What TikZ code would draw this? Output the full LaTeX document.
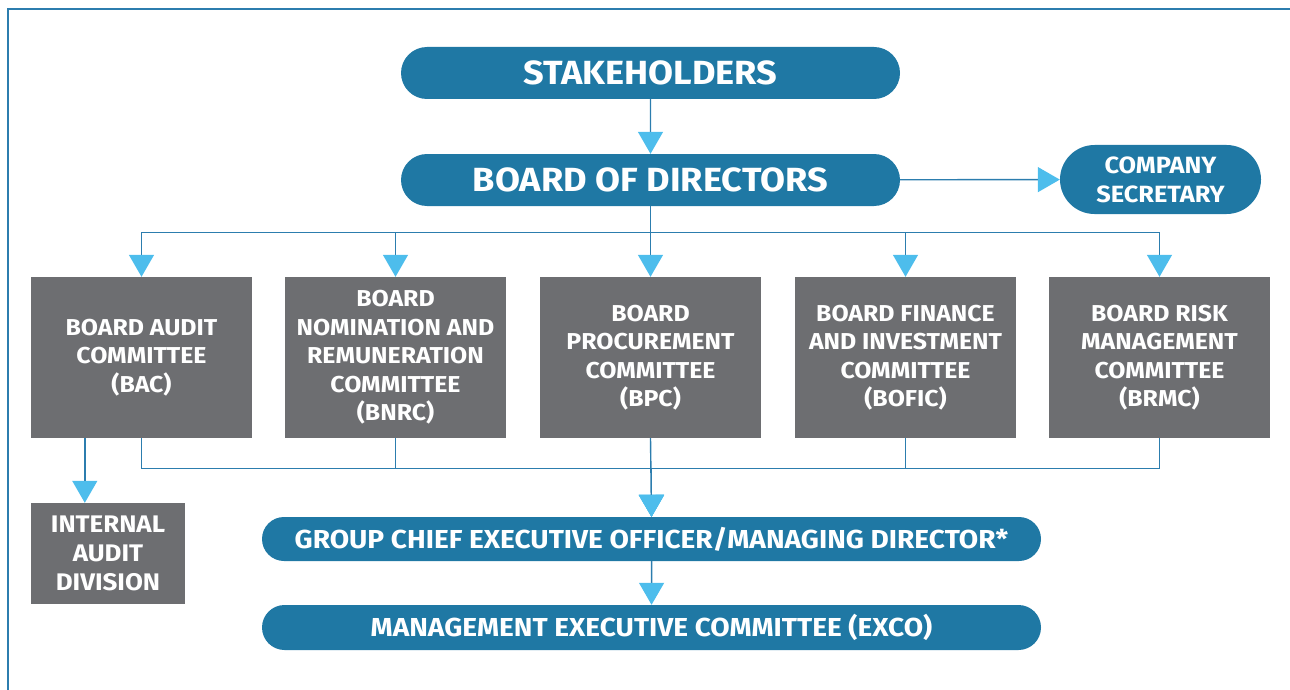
\documentclass[tikz,border=0pt]{standalone}
\usepackage{fontspec}
\setmainfont{Fira Sans}
\newfontfamily\dinfont[FakeStretch=1.08]{Fira Sans}
\usetikzlibrary{shapes.misc,arrows.meta,positioning,calc}
\definecolor{pillblue}{HTML}{1F78A4}
\definecolor{boxgray}{HTML}{6D6E71}
\definecolor{tipblue}{HTML}{4DBDEC}
\definecolor{lineblue}{HTML}{2C7DAE}
\tikzset{
  pill/.style={rounded rectangle, fill=pillblue, text=white, inner sep=0pt},
  combox/.style={rectangle, fill=boxgray, text=white, font=\dinfont\bfseries\fontsize{23}{28.5}\selectfont, align=center, minimum width=221pt, minimum height=161pt, inner sep=0pt},
  conn/.style={draw=lineblue, line width=1.4pt},
  arr/.style={conn, -{Triangle[width=25pt,length=22pt,color=tipblue]}},
}
\begin{document}
\begin{tikzpicture}[x=1pt,y=-1pt]
\useasboundingbox (0,0) rectangle (1290,690);
\draw[lineblue, line width=1.6pt] (8,690) -- (8,9) -- (1290,9);
% top pills
\node[pill, minimum width=499pt, minimum height=52pt, font=\dinfont\bfseries\fontsize{33.5}{36}\selectfont] (stake) at (650.5,73) {STAKEHOLDERS};
\node[pill, minimum width=499pt, minimum height=52pt, font=\dinfont\bfseries\fontsize{33.5}{36}\selectfont] (bod) at (650.5,180) {BOARD OF DIRECTORS};
\node[pill, minimum width=201pt, minimum height=69pt, align=center, font=\dinfont\bfseries\fontsize{23.5}{29}\selectfont] (cs) at (1160.5,179.5) {COMPANY\\SECRETARY};
% committees
\node[combox] (c1) at (141.5,357.5) {BOARD AUDIT\\COMMITTEE\\(BAC)};
\node[combox] (c2) at (395.5,357.5) {BOARD\\NOMINATION AND\\REMUNERATION\\COMMITTEE\\(BNRC)};
\node[combox] (c3) at (650.5,357.5) {BOARD\\PROCUREMENT\\COMMITTEE\\(BPC)};
\node[combox] (c4) at (905.5,357.5) {BOARD FINANCE\\AND INVESTMENT\\COMMITTEE\\(BOFIC)};
\node[combox] (c5) at (1159.5,357.5) {BOARD RISK\\MANAGEMENT\\COMMITTEE\\(BRMC)};
\node[combox, minimum width=154pt, minimum height=101pt, font=\dinfont\bfseries\fontsize{24}{29}\selectfont] (ia) at (108,553.5) {INTERNAL\\AUDIT\\DIVISION};
% bottom pills
\node[pill, minimum width=779pt, minimum height=44pt, font=\dinfont\bfseries\fontsize{26}{30}\selectfont] (gceo) at (651.5,539) {GROUP CHIEF EXECUTIVE OFFICER/MANAGING DIRECTOR*};
\node[pill, minimum width=779pt, minimum height=45pt, font=\dinfont\bfseries\fontsize{26}{30}\selectfont] (exco) at (651.5,627.5) {MANAGEMENT EXECUTIVE COMMITTEE (EXCO)};
% connectors
\draw[arr] (stake) -- (bod);
\draw[arr] (bod) -- (cs);
\foreach \c in {c1,c2,c4,c5}{
  \draw[arr] (bod.south) -- ++(0,26) -| (\c.north);
}
\draw[arr] (bod.south) -- (c3.north);
\foreach \c in {c1,c2,c4,c5}{
  \draw[arr] (\c.south) -- ++(0,30) -| (gceo.north);
}
\draw[arr] (c3.south) -- (gceo.north);
\draw[arr] ($(c1.south west)+(54,0)$) -- ($(ia.north west)+(54,0)$);
\draw[arr] (gceo) -- (exco);
\end{tikzpicture}
\end{document}
